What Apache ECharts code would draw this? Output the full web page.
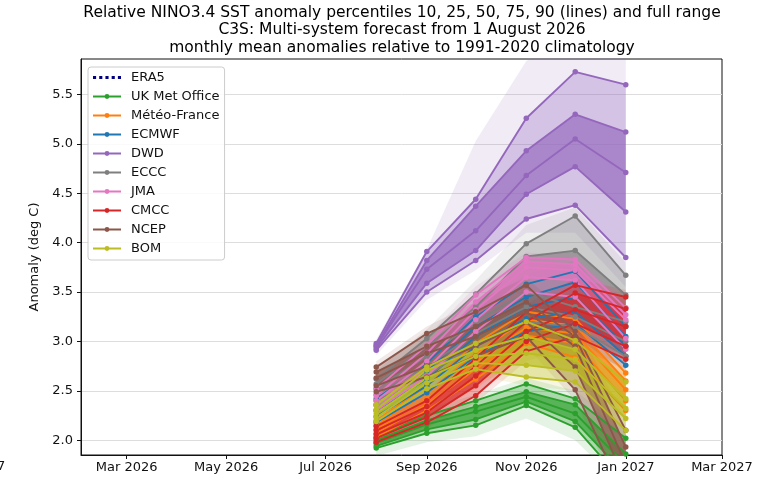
<!DOCTYPE html>
<html>
<head>
<meta charset="utf-8">
<script src="https://cdn.jsdelivr.net/npm/echarts@6/dist/echarts.min.js"></script>
<style>
html,body{margin:0;padding:0;background:#fff;}
#chart{width:768px;height:492px;}
</style>
</head>
<body>
<div id="chart"></div>
<script>
// forecast months (1st of each month)
var months = [Date.UTC(2026,7,1), Date.UTC(2026,8,1), Date.UTC(2026,9,1), Date.UTC(2026,10,1), Date.UTC(2026,11,1), Date.UTC(2027,0,1)];
var xTicks = [Date.UTC(2026,2,1), Date.UTC(2026,4,1), Date.UTC(2026,6,1), Date.UTC(2026,8,1), Date.UTC(2026,10,1), Date.UTC(2027,0,1), Date.UTC(2027,2,1)];
var yTicks = [2.0, 2.5, 3.0, 3.5, 4.0, 4.5, 5.0, 5.5];
var monthNames = ['Jan','Feb','Mar','Apr','May','Jun','Jul','Aug','Sep','Oct','Nov','Dec'];
var xMin = Date.UTC(2026,1,1), xMax = Date.UTC(2027,2,1);

// rows: min, p10, p25, p50, p75, p90, max
var ukmo = [
	[1.84, 1.98, 2.04, 2.22, 2.00, 1.50],
	[1.92, 2.07, 2.15, 2.35, 2.13, 1.55],
	[1.94, 2.11, 2.21, 2.39, 2.19, 1.65],
	[1.97, 2.16, 2.29, 2.44, 2.27, 1.75],
	[2.00, 2.20, 2.34, 2.49, 2.36, 1.86],
	[2.03, 2.25, 2.40, 2.57, 2.42, 2.02],
	[2.10, 2.32, 2.46, 2.63, 2.50, 2.10]
];
var meteofrance = [
	[1.99, 2.24, 2.52, 2.88, 2.72, 2.20],
	[2.03, 2.30, 2.62, 2.98, 2.84, 2.30],
	[2.07, 2.36, 2.72, 3.06, 2.98, 2.40],
	[2.11, 2.42, 2.80, 3.14, 3.08, 2.51],
	[2.15, 2.48, 2.88, 3.22, 3.16, 2.60],
	[2.20, 2.55, 2.98, 3.30, 3.23, 2.68],
	[2.27, 2.64, 3.08, 3.40, 3.34, 2.78]
];
var ecmwf = [
	[2.14, 2.42, 2.78, 3.00, 3.05, 2.68],
	[2.18, 2.48, 2.85, 3.10, 3.18, 2.76],
	[2.24, 2.55, 2.95, 3.23, 3.30, 2.85],
	[2.30, 2.62, 3.05, 3.35, 3.45, 2.95],
	[2.36, 2.70, 3.15, 3.45, 3.60, 3.05],
	[2.42, 2.78, 3.25, 3.58, 3.71, 3.15],
	[2.50, 2.88, 3.38, 3.68, 3.82, 3.26]
];
var dwd = [
	[2.86, 3.42, 3.72, 4.10, 4.10, 3.55],
	[2.91, 3.50, 3.82, 4.24, 4.38, 3.85],
	[2.93, 3.59, 3.92, 4.49, 4.77, 4.31],
	[2.95, 3.73, 4.12, 4.68, 5.05, 4.71],
	[2.96, 3.82, 4.37, 4.93, 5.30, 5.12],
	[2.98, 3.91, 4.44, 5.26, 5.73, 5.60],
	[3.02, 3.93, 5.03, 5.84, 6.10, 5.95]
];
var eccc = [
	[2.36, 2.60, 2.90, 3.12, 3.05, 2.70],
	[2.40, 2.65, 2.98, 3.20, 3.15, 2.85],
	[2.46, 2.75, 3.08, 3.35, 3.25, 3.00],
	[2.52, 2.85, 3.20, 3.50, 3.35, 3.20],
	[2.57, 2.95, 3.35, 3.86, 3.92, 3.47],
	[2.62, 3.03, 3.48, 3.99, 4.27, 3.67],
	[2.70, 3.12, 3.62, 4.18, 4.36, 3.80]
];
var jma = [
	[2.26, 2.60, 3.02, 3.40, 3.35, 2.82],
	[2.30, 2.65, 3.10, 3.50, 3.45, 2.92],
	[2.35, 2.72, 3.22, 3.65, 3.62, 3.03],
	[2.40, 2.80, 3.32, 3.75, 3.72, 3.22],
	[2.45, 2.88, 3.40, 3.81, 3.78, 3.27],
	[2.52, 2.96, 3.47, 3.85, 3.83, 3.34],
	[2.60, 3.05, 3.56, 3.90, 3.88, 3.42]
];
var cmcc = [
	[1.94, 2.12, 2.38, 2.80, 2.95, 2.72],
	[1.98, 2.18, 2.45, 2.90, 3.05, 2.82],
	[2.02, 2.23, 2.55, 3.00, 3.18, 2.95],
	[2.06, 2.28, 2.65, 3.10, 3.32, 3.15],
	[2.10, 2.34, 2.75, 3.20, 3.49, 3.33],
	[2.14, 2.40, 2.83, 3.30, 3.57, 3.45],
	[2.20, 2.48, 2.92, 3.38, 3.64, 3.52]
];
var ncep = [
	[2.44, 2.58, 2.78, 2.95, 2.40, 1.30],
	[2.49, 2.64, 2.85, 3.05, 2.51, 1.40],
	[2.55, 2.75, 2.95, 3.20, 2.74, 1.58],
	[2.63, 2.88, 3.05, 3.30, 2.95, 1.75],
	[2.69, 2.95, 3.15, 3.40, 3.05, 1.93],
	[2.74, 3.08, 3.30, 3.57, 3.10, 2.10],
	[2.80, 3.15, 3.40, 3.65, 3.20, 2.20]
];
var bom = [
	[2.15, 2.46, 2.66, 2.55, 2.50, 2.02],
	[2.19, 2.52, 2.72, 2.64, 2.59, 2.10],
	[2.23, 2.58, 2.78, 2.76, 2.70, 2.22],
	[2.27, 2.63, 2.85, 2.88, 2.82, 2.32],
	[2.31, 2.71, 2.91, 3.05, 2.92, 2.42],
	[2.36, 2.74, 2.98, 3.20, 3.01, 2.59],
	[2.42, 2.82, 3.06, 3.28, 3.10, 2.66]
];

var systemNames = ['UK Met Office', 'Météo-France', 'ECMWF', 'DWD', 'ECCC', 'JMA', 'CMCC', 'NCEP', 'BOM'];
var systemData = [ukmo, meteofrance, ecmwf, dwd, eccc, jma, cmcc, ncep, bom];
var systemColors = ['#2ca02c', '#ff7f0e', '#1f77b4', '#9467bd', '#7f7f7f', '#e377c2', '#d62728', '#8c564b', '#bcbd22'];

var font = 'DejaVu Sans';

function pairs(vals) {
	return vals.map(function(v, i) { return [months[i], v]; });
}

// shaded band between two rows, done with a stacked pair
function band(id, lo, hi, color, opacity) {
	var out = [];
	out.push({
		name: id + ' base', type: 'line', stack: id, data: pairs(lo),
		symbol: 'none', silent: true, lineStyle: {opacity: 0}
	});
	out.push({
		name: id + ' fill', type: 'line', stack: id,
		data: pairs(hi.map(function(v, i) { return v - lo[i]; })),
		symbol: 'none', silent: true, lineStyle: {opacity: 0},
		areaStyle: {color: color, opacity: opacity}
	});
	return out;
}

var series = [];
// ERA5 (no values in this window, only in legend)
series.push({
	name: 'ERA5', type: 'line', data: [], symbol: 'none',
	lineStyle: {color: '#000080', width: 3, type: 'dotted'}, itemStyle: {color: '#000080'}
});

systemNames.forEach(function(name, k) {
	var d = systemData[k], c = systemColors[k];
	series = series.concat(band(name + ' range', d[0], d[6], c, 0.13));
	series = series.concat(band(name + ' 10-90', d[1], d[5], c, 0.3));
	series = series.concat(band(name + ' 25-75', d[2], d[4], c, 0.65));
	for (var p = 1; p <= 5; p++) {
		series.push({
			name: name, type: 'line', data: pairs(d[p]),
			symbol: 'circle', symbolSize: 5.5, showSymbol: true,
			lineStyle: {color: c, width: 1.9}, itemStyle: {color: c}
		});
	}
});

var legendData = [{name: 'ERA5', icon: 'path://M0 0h2v2H0zM4 0h2v2H4zM8 0h2v2H8zM12 0h2v2h-2zM16 0h2v2h-2z'}]
	.concat(systemNames.map(function(n) { return {name: n}; }));

var myChart = echarts.init(document.getElementById('chart'));
var option = {
	animation: false,
	backgroundColor: '#fff',
	title: {
		text: 'Relative NINO3.4 SST anomaly percentiles 10, 25, 50, 75, 90 (lines) and full range\nC3S: Multi-system forecast from 1 August 2026\nmonthly mean anomalies relative to 1991-2020 climatology',
		left: 402,
		top: 0,
		textAlign: 'center',
		padding: [4, 0, 0, 0],
		textStyle: {fontFamily: font, fontSize: 15.5, fontWeight: 'normal', color: '#000', lineHeight: 17.5}
	},
	grid: {
		left: 81, right: 46, top: 59, bottom: 37,
		show: true, borderColor: '#111', borderWidth: 1, backgroundColor: 'transparent'
	},
	legend: {
		data: legendData,
		orient: 'vertical',
		left: 88, top: 67,
		itemWidth: 28, itemHeight: 6, itemGap: 4,
		padding: [3, 5, 4, 4],
		backgroundColor: 'rgba(255,255,255,0.85)',
		borderColor: '#cccccc', borderWidth: 1, borderRadius: 3,
		textStyle: {fontFamily: font, fontSize: 13, lineHeight: 15, color: '#111', padding: [0, 0, 0, 5]},
		selectedMode: false
	},
	xAxis: [{
		// time axis that carries the data
		type: 'time', position: 'bottom', show: false,
		min: xMin, max: xMax
	}, {
		// plain value axis over the same dates, only for the tick labels
		type: 'value', position: 'bottom',
		min: xMin, max: xMax,
		axisLine: {show: true, lineStyle: {color: '#111'}},
		axisTick: {show: true, length: 4, customValues: xTicks, lineStyle: {color: '#111'}},
		axisLabel: {
			customValues: xTicks, margin: 6,
			fontFamily: font, fontSize: 13, color: '#111',
			formatter: function(v) {
				var d = new Date(v);
				return monthNames[d.getUTCMonth()] + ' ' + d.getUTCFullYear();
			}
		},
		splitLine: {show: false}
	}],
	yAxis: {
		type: 'value',
		min: 1.85, max: 5.86,
		name: 'Anomaly (deg C)', nameLocation: 'middle', nameGap: 29, nameRotate: 90,
		nameTextStyle: {fontFamily: font, fontSize: 13, color: '#111'},
		axisLine: {show: true, lineStyle: {color: '#111'}},
		axisTick: {show: true, length: 4, customValues: yTicks, lineStyle: {color: '#111'}},
		axisLabel: {
			customValues: yTicks, margin: 8,
			fontFamily: font, fontSize: 13, color: '#111',
			formatter: function(v) { return Number(v).toFixed(1); }
		},
		splitLine: {show: true, lineStyle: {color: '#dddddd', width: 1}}
	},
	graphic: [{
		type: 'text', left: -3, top: 460,
		style: {text: '7', fontFamily: font, fontSize: 13, fill: '#111'}
	}],
	series: series
};
myChart.setOption(option);
</script>
</body>
</html>
